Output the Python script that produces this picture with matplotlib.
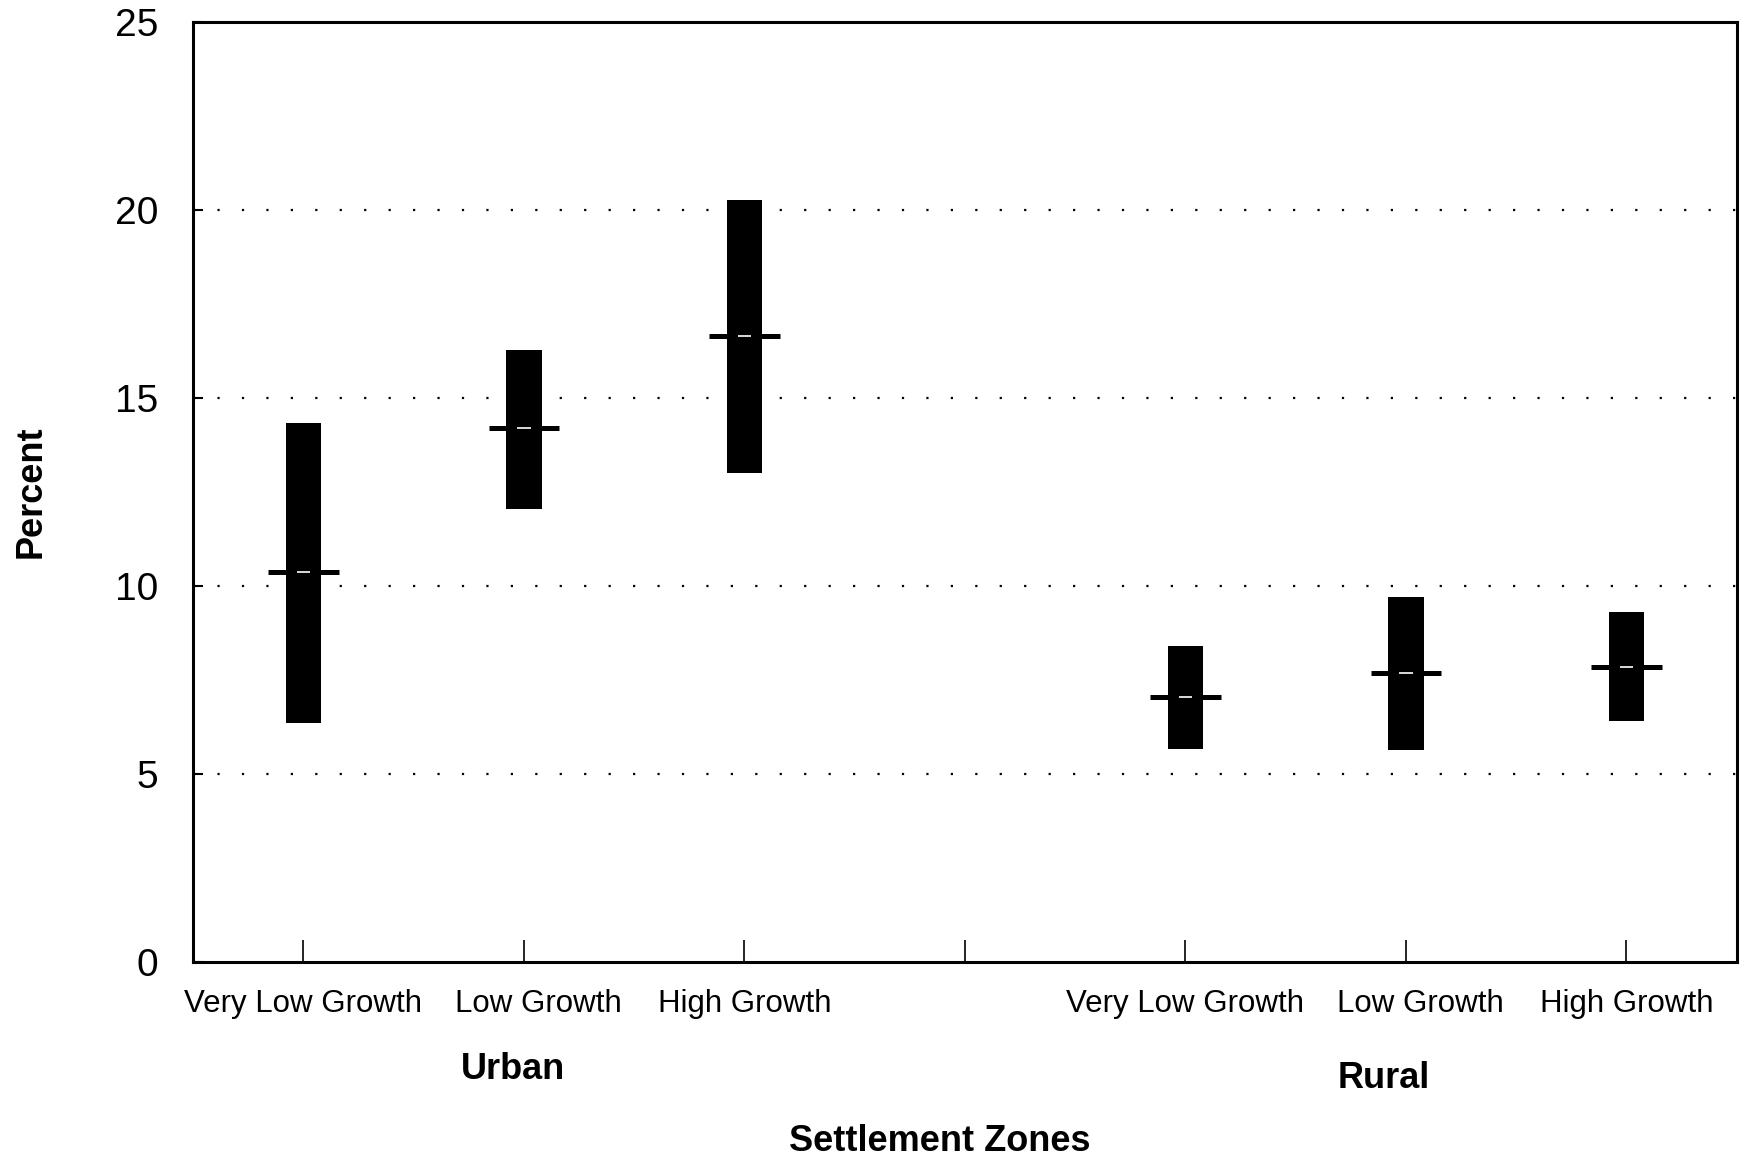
import matplotlib.pyplot as plt
import matplotlib.transforms as mtransforms
import numpy as np

plt.rcParams['font.family'] = ['Liberation Sans', 'DejaVu Sans']

# values (percent)
groups = ['Urban', 'Urban', 'Urban', 'Rural', 'Rural', 'Rural']
zones = ['Very Low Growth', 'Low Growth', 'High Growth',
         'Very Low Growth', 'Low Growth', 'High Growth']
low = [6.36, 12.04, 12.99, 5.65, 5.62, 6.39]
high = [14.32, 16.27, 20.27, 8.40, 9.70, 9.29]
mean = [10.36, 14.20, 16.66, 7.04, 7.69, 7.84]
pos = [0, 1, 2, 4, 5, 6]

fig = plt.figure(figsize=(17.41, 11.62), dpi=100)
ax = fig.add_axes([0.111, 0.1725, 0.8865, 0.8084])

low = np.array(low)
high = np.array(high)
ax.bar(pos, high - low, bottom=low, width=0.16, color='black', zorder=3)
ax.hlines(mean, np.array(pos) - 0.16, np.array(pos) + 0.16,
          color='black', linewidth=3.6, zorder=4)
ax.hlines(mean, np.array(pos) - 0.03, np.array(pos) + 0.03,
          color='white', linewidth=1.2, zorder=5)

ax.set_xlim(-0.5, 6.5)
ax.set_ylim(0, 25)
ax.set_yticks([0, 5, 10, 15, 20, 25])
ax.set_xticks([0, 1, 2, 3, 4, 5, 6])
ax.set_xticklabels(zones[:3] + [''] + zones[3:])
ax.tick_params(axis='x', direction='in', length=16, width=1.2,
               labelsize=22.5, pad=20)
ax.tick_params(axis='y', direction='in', length=7, width=1.5,
               labelsize=28, pad=25)
for s in ax.spines.values():
    s.set_linewidth(2.2)

# the "Low Growth" labels sit a bit right of their ticks in the original
for i in [1, 5]:
    lab = ax.get_xticklabels()[i]
    lab.set_transform(lab.get_transform() +
                      mtransforms.ScaledTranslation(0.14, 0, fig.dpi_scale_trans))

for y in [5, 10, 15, 20]:
    ax.axhline(y, color='black', linestyle=(0, (1, 10)), linewidth=1.6, zorder=1)

ax.text(0.95, -0.115, 'Urban', transform=ax.get_xaxis_transform(),
        ha='center', va='center', fontsize=26, fontweight='bold')
ax.text(4.9, -0.125, 'Rural', transform=ax.get_xaxis_transform(),
        ha='center', va='center', fontsize=26, fontweight='bold')
fig.text(0.54, 0.018, 'Settlement Zones', ha='center', va='center',
         fontsize=26, fontweight='bold')
fig.text(0.018, 0.577, 'Percent', ha='center', va='center', rotation=90,
         fontsize=26, fontweight='bold')

fig.savefig('out.png', dpi=100)
